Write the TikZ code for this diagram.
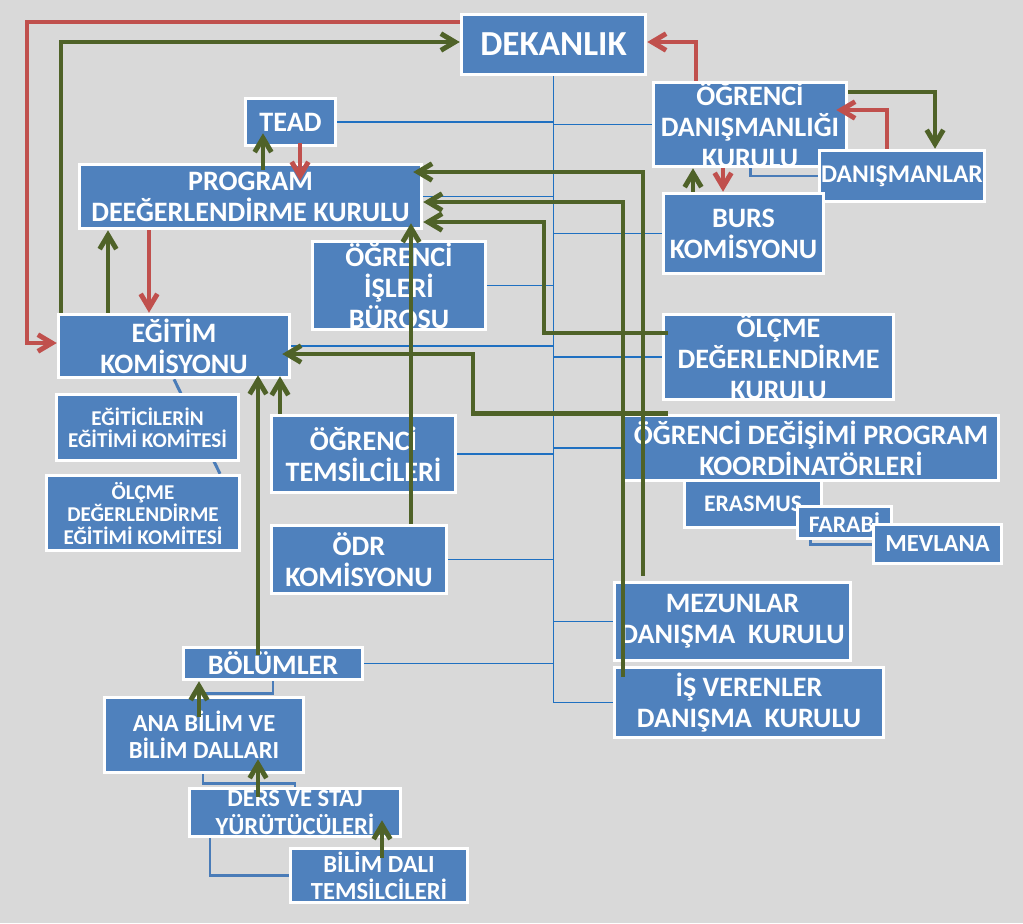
\documentclass[tikz,border=0pt]{standalone}
\usepackage{fontspec}
\setmainfont{Carlito}
\usetikzlibrary{arrows.meta,calc}
\definecolor{bgray}{HTML}{D9D9D9}
\definecolor{boxblue}{HTML}{4F81BD}
\definecolor{grn}{HTML}{4F6228}
\definecolor{rd}{HTML}{C0504D}
\definecolor{tblue}{HTML}{1F70C1}
\definecolor{gblue}{HTML}{4A7CB8}
\pgfdeclarelayer{bg}
\pgfdeclarelayer{lines}
\pgfsetlayers{bg,lines,main}
\begin{document}
\begin{tikzpicture}[x=0.02cm, y=-0.02cm,
  every node/.style={font=\bfseries\fontsize{16}{17.6}\selectfont},
  box/.style={draw=white,line width=2pt,fill=boxblue,text=white,inner xsep=0pt,inner ysep=-8pt,align=center},
  smalltxt/.style={font=\bfseries\fontsize{12}{12.8}\selectfont},
  midtxt/.style={font=\bfseries\fontsize{14}{15.5}\selectfont},
  tagtxt/.style={font=\bfseries\fontsize{13.5}{15}\selectfont},
  garr/.style={draw=grn,line width=2.8pt,-{Straight Barb[length=8pt,width=9.5pt]}},
  rarr/.style={draw=rd,line width=2.8pt,-{Straight Barb[length=8pt,width=9.5pt]}},
  hline/.style={draw=tblue,line width=0.6pt},
  gline/.style={draw=gblue,line width=1.7pt}]
  \begin{pgfonlayer}{bg}
    \fill[bgray] (0,0) rectangle (1023,923);
  \end{pgfonlayer}
  % left column
  \node[box,minimum width=3.68cm,minimum height=1.20cm,font=\bfseries\fontsize{20}{22}\selectfont] (dek) at (553.5,44.5) {DEKANLIK};
  \node[box,minimum width=1.80cm,minimum height=0.94cm] (tead) at (290.5,122) {TEAD};
  \node[box,minimum width=6.84cm,minimum height=1.28cm] (pdk) at (250.5,196.5) {PROGRAM\\DEEĞERLENDİRME KURULU};
  \node[box,minimum width=3.46cm,minimum height=1.76cm] (oib) at (399,285.5) {ÖĞRENCİ\\İŞLERİ\\BÜROSU};
  \node[box,minimum width=4.62cm,minimum height=1.26cm] (ek) at (174,346) {EĞİTİM\\KOMİSYONU};
  \node[box,smalltxt,minimum width=3.64cm,minimum height=1.32cm] (eek) at (147.5,427.5) {EĞİTİCİLERİN\\EĞİTİMİ KOMİTESİ};
  \node[box,smalltxt,minimum width=3.86cm,minimum height=1.50cm] (odek) at (143,513) {ÖLÇME\\DEĞERLENDİRME\\EĞİTİMİ KOMİTESİ};
  \node[box,minimum width=3.68cm,minimum height=1.54cm] (otem) at (363.5,454) {ÖĞRENCİ\\TEMSİLCİLERİ};
  \node[box,minimum width=3.50cm,minimum height=1.36cm] (odr) at (359,559.5) {ÖDR\\KOMİSYONU};
  \node[box,minimum width=3.58cm,minimum height=0.64cm] (bol) at (273,663.5) {BÖLÜMLER};
  \node[box,midtxt,minimum width=3.98cm,minimum height=1.50cm] (ana) at (204,735) {ANA BİLİM VE\\BİLİM DALLARI};
  \node[box,midtxt,minimum width=4.22cm,minimum height=0.96cm] (ders) at (295,812.5) {DERS VE STAJ\\YÜRÜTÜCÜLERİ};
  \node[box,midtxt,minimum width=3.54cm,minimum height=1.08cm] (bdt) at (379,875.5) {BİLİM DALI\\TEMSİLCİLERİ};
  % right column
  \node[box,minimum width=3.86cm,minimum height=1.68cm] (odk) at (750,124.5) {ÖĞRENCİ\\DANIŞMANLIĞI\\KURULU};
  \node[box,font=\bfseries\fontsize{14.5}{16}\selectfont,minimum width=3.30cm,minimum height=1.02cm] (dan) at (902,176) {DANIŞMANLAR};
  \node[box,minimum width=3.20cm,minimum height=1.60cm] (burs) at (743.5,233.5) {BURS\\KOMİSYONU};
  \node[box,minimum width=4.60cm,minimum height=1.70cm] (olc) at (778.5,357) {ÖLÇME\\DEĞERLENDİRME\\KURULU};
  \node[box,minimum width=7.50cm,minimum height=1.30cm] (odp) at (811,448) {ÖĞRENCİ DEĞİŞİMİ PROGRAM\\KOORDİNATÖRLERİ};
  \node[box,tagtxt,minimum width=2.74cm,minimum height=0.94cm] (eras) at (753,504) {ERASMUS};
  \node[box,tagtxt,minimum width=1.88cm,minimum height=0.64cm] (far) at (844.5,522.5) {FARABİ};
  \node[box,midtxt,minimum width=2.56cm,minimum height=0.78cm] (mev) at (937.5,544) {MEVLANA};
  \node[box,minimum width=4.72cm,minimum height=1.56cm] (mez) at (732.5,621.5) {MEZUNLAR\\DANIŞMA\ \ KURULU};
  \node[box,minimum width=5.38cm,minimum height=1.40cm] (isv) at (749,702.5) {İŞ VERENLER\\DANIŞMA\ \ KURULU};
  % blue tree lines
  \begin{pgfonlayer}{lines}
    \draw[hline] (dek.south) -- (dek.south |- isv.west) -- (isv.west);
    \foreach \n in {tead,pdk,oib,ek,otem,odr,bol}
      \draw[hline] (\n.east) -- (dek.south |- \n.east);
    \foreach \n in {odk,burs,olc,odp,mez}
      \draw[hline] (\n.west) -- (dek.south |- \n.west);
    \draw[gline] (odk.south) |- (dan.west);
    \draw[gline] (far.south -| 810,0) |- (mev.west);
    \draw[gline] (ek.south) -- (odek.north -| 220,0);
    \draw[gline] (bol.south) -- ++(0,12) -| (ana.north -| 203,0);
    \draw[gline] (ana.south -| 203,0) -- ++(0,9) -| (ders.north);
    \draw[gline] (ders.south -| 210,0) |- (bdt.west);
  \end{pgfonlayer}
  % arrows to the dean
  \draw[garr] (ek.north -| 61,0) |- (dek.west |- 0,42);
  \draw[rarr] (dek.west |- 0,22) -- (27,22) |- (ek.west |- 0,343);
  \draw[rarr] (odk.north -| 696,0) |- (dek.east |- 0,42);
  \draw[garr] (odk.east |- 0,92) -| (dan.north -| 935,0);
  \draw[rarr] (dan.north -| 887,0) |- ($(odk.east |- 0,110)+(-12,0)$);
  \draw[garr] (burs.north -| 693,0) -- (odk.south -| 693,0);
  \draw[rarr] (odk.south -| 723,0) -- (burs.north -| 723,0);
  \draw[garr] ($(pdk.north -| 263,0)+(0,7)$) -- ($(tead.south -| 263,0)+(0,-14)$);
  \draw[rarr] ($(tead.south -| 300,0)+(0,-4)$) -- ($(pdk.north -| 300,0)+(0,18)$);
  \draw[garr] (ek.north -| 108,0) -- (pdk.south -| 108,0);
  \draw[rarr] (pdk.south -| 149,0) -- (ek.north -| 149,0);
  % feedback into the program board
  \draw[garr] ($(mez.north -| 643,0)+(0,-5)$) |- ($(pdk.east |- 0,172)+(-10,0)$);
  \draw[garr] ($(isv.north -| 623,0)+(0,11)$) |- (pdk.east |- 0,202);
  \draw[garr] ($(olc.west |- 0,333)+(6,0)$) -| (544,222) -- (pdk.east |- 0,222);
  \draw[garr] (odr.north -| 411,0) -- ($(pdk.south -| 411,0)+(0,-7)$);
  \draw[garr] (odp.north -| 668,0) -| (473,354) -- ($(ek.east |- 0,354)+(-9,0)$);
  \draw[garr] ($(bol.north -| 258,0)+(0,9)$) -- ($(ek.south -| 258,0)+(0,-4)$);
  \draw[garr] (otem.north -| 280,0) -- ($(ek.south -| 280,0)+(0,-3)$);
  \draw[garr] ($(ana.north -| 199,0)+(0,21)$) -- (bol.south -| 199,0);
  \draw[garr] ($(ders.north -| 258,0)+(0,10)$) -- ($(ana.south -| 258,0)+(0,-15)$);
  \draw[garr] ($(bdt.north -| 382,0)+(0,11)$) -- ($(ders.south -| 382,0)+(0,-18)$);
\end{tikzpicture}
\end{document}
